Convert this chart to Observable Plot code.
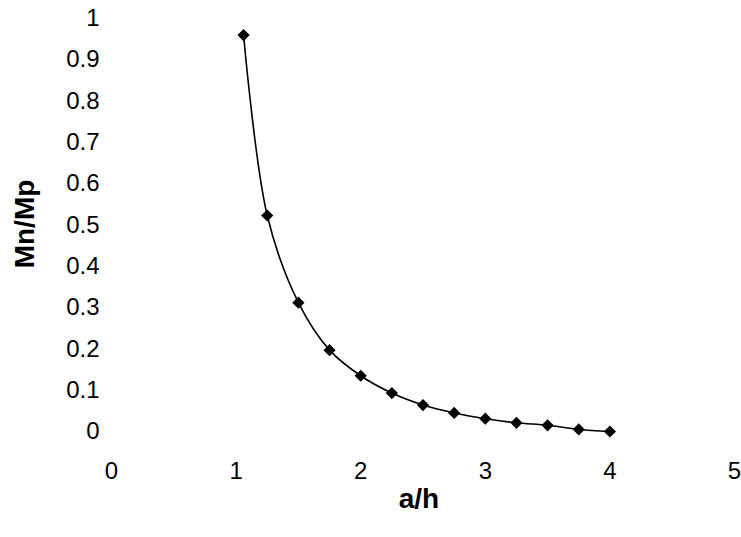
<!DOCTYPE html>
<html>
<head>
<meta charset="utf-8">
<script src="https://cdn.jsdelivr.net/npm/d3@7"></script>
<script src="https://cdn.jsdelivr.net/npm/@observablehq/plot@0.6"></script>
<style>
  html, body { margin: 0; padding: 0; background: white; }
</style>
</head>
<body>
<div id="chart"></div>
<script>
const aH = [1.06, 1.25, 1.5, 1.75, 2.0, 2.25, 2.5, 2.75, 3.0, 3.25, 3.5, 3.75, 4.0];
const mnMp = [0.96, 0.523, 0.312, 0.197, 0.135, 0.093, 0.064, 0.045, 0.031, 0.021, 0.015, 0.005, 0.0];
const xTicks = [0, 1, 2, 3, 4, 5];
const yTicks = [0, 0.1, 0.2, 0.3, 0.4, 0.5, 0.6, 0.7, 0.8, 0.9, 1];
const xTitle = "a/h";
const yTitle = "Mn/Mp";

const data = aH.map((x, i) => ({x, y: mnMp[i]}));

const chart = Plot.plot({
  width: 741,
  height: 537,
  marginLeft: 111,
  marginRight: 7,
  marginTop: 18,
  marginBottom: 106,
  style: {fontFamily: "'Liberation Sans', Arial, sans-serif", fontSize: "24px", background: "white", color: "black"},
  x: {domain: [0, 5]},
  y: {domain: [0, 1]},
  marks: [
    Plot.axisX({ticks: xTicks, tickSize: 0, tickPadding: 30, label: null, fontSize: 24, tickFormat: d3.format("~g")}),
    Plot.axisY({ticks: yTicks, tickSize: 0, tickPadding: 12, label: null, fontSize: 24, tickFormat: d3.format("~g")}),
    Plot.line(data, {x: "x", y: "y", curve: "catmull-rom", stroke: "black", strokeWidth: 1.6}),
    Plot.dot(data, {x: "x", y: "y", symbol: "diamond2", r: 5.5, fill: "black", stroke: "none"}),
    Plot.text([xTitle], {frameAnchor: "bottom", textAnchor: "middle", dx: -4, dy: 76, fontSize: 28, fontWeight: "bold"}),
    Plot.text([yTitle], {frameAnchor: "left", textAnchor: "middle", rotate: -90, dx: -86, dy: -1, fontSize: 28, fontWeight: "bold"})
  ]
});
document.getElementById("chart").appendChild(chart);
</script>
</body>
</html>
